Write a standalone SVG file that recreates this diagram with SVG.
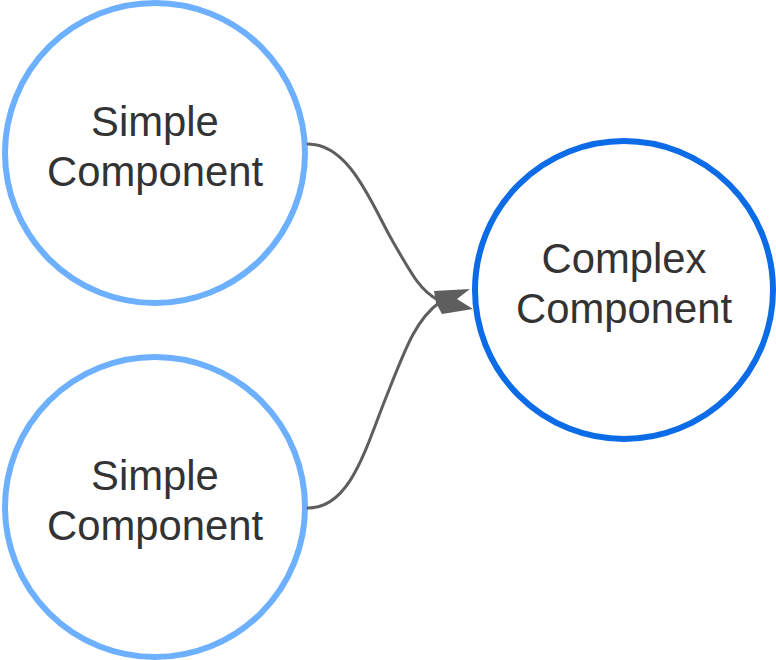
<svg xmlns="http://www.w3.org/2000/svg" width="776" height="660" viewBox="0 0 776 660">
<style>
.simple{fill:#fff;stroke:#6db0ff;stroke-width:6}
.complex{fill:#fff;stroke:#0c6be6;stroke-width:6}
.lbl{font-family:"Liberation Sans",Arial,sans-serif;font-size:41.8px;fill:#333;text-anchor:middle}
.conn{fill:none;stroke:#5e5e5e;stroke-width:3;stroke-linecap:round}
</style>
<rect width="776" height="660" fill="#fff"/>
<g id="simple1">
<circle class="simple" cx="155" cy="153" r="150"/>
<text class="lbl" x="155" y="136">Simple</text>
<text class="lbl" x="155" y="186">Component</text>
</g>
<g id="simple2">
<circle class="simple" cx="155" cy="507" r="150"/>
<text class="lbl" x="155" y="490">Simple</text>
<text class="lbl" x="155" y="540">Component</text>
</g>
<g id="complex">
<circle class="complex" cx="624" cy="290" r="149"/>
<text class="lbl" x="624" y="273">Complex</text>
<text class="lbl" x="624" y="323">Component</text>
</g>
<g id="connectors">
<path class="conn" d="M308,144 C350,144 372,205 392,240 S420,290 438,300"/>
<path class="conn" d="M308,508 C350,508 365,450 385,400 S415,320 440,302"/>
<polygon points="434,291 470,289 457,299 473,309 442,314 436,303" fill="#5e5e5e"/>
</g>
</svg>
